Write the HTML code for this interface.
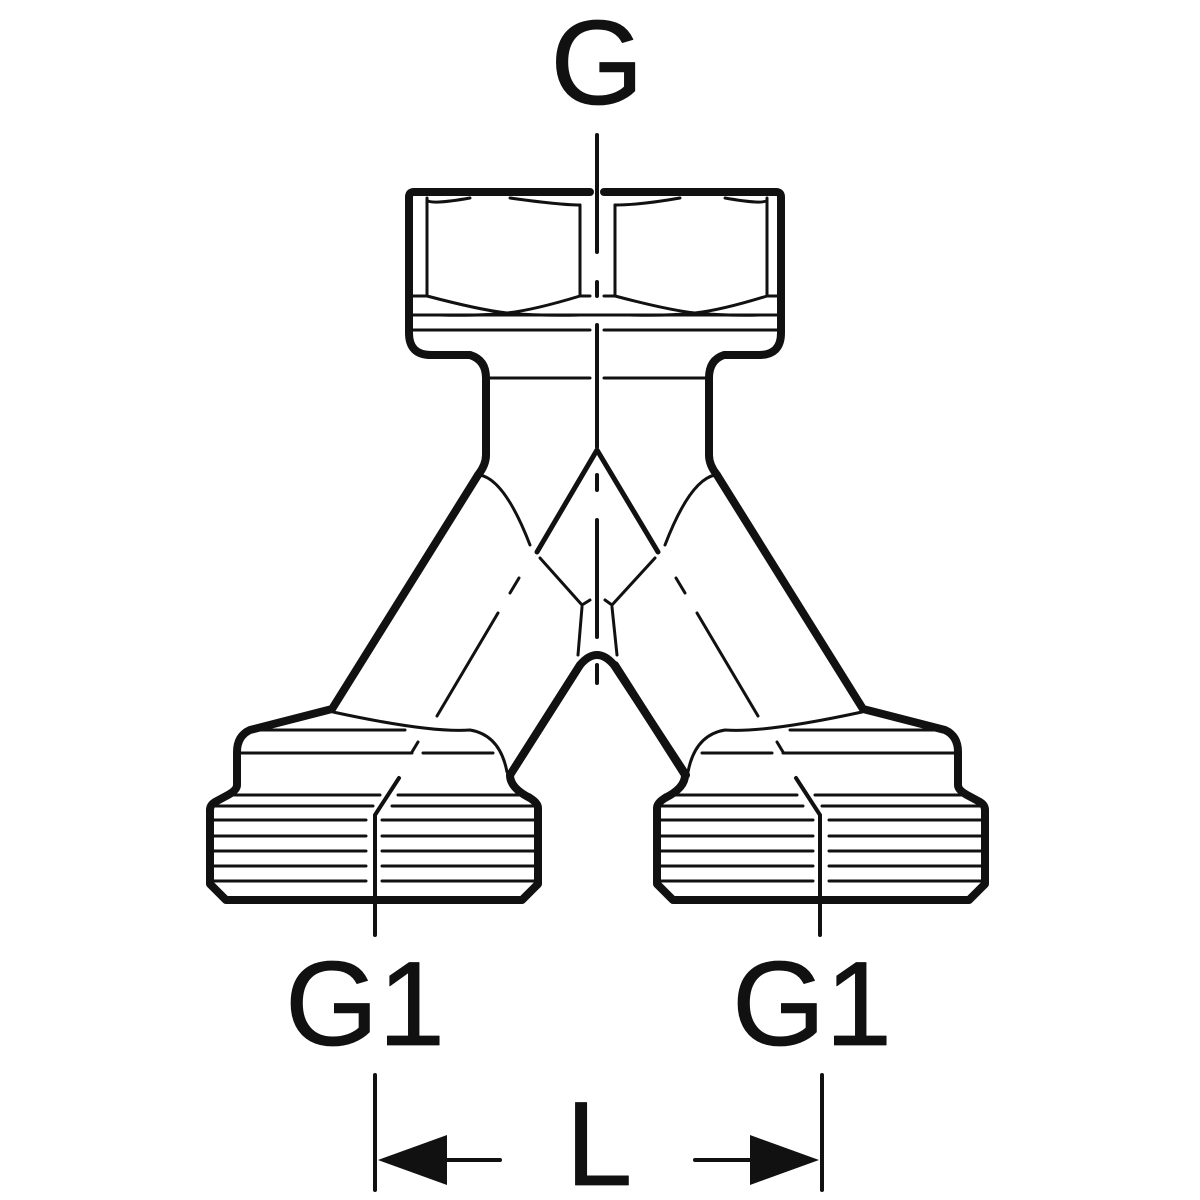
<!DOCTYPE html>
<html><head><style>html,body{margin:0;padding:0;background:#fff}svg{display:block}</style></head>
<body>
<svg width="1200" height="1200" viewBox="0 0 1200 1200" xmlns="http://www.w3.org/2000/svg" fill="none" stroke="#111" stroke-linecap="round" stroke-linejoin="round">
<!-- top nut -->
<path d="M590,192 H414 Q409,192 409,197 V333 Q409,355 431,355 H470 Q486,360 486,378 V455 Q486,465 478,475" stroke-width="8"/>
<path d="M604,192 H776 Q781,192 781,197 V333 Q781,355 759,355 H724 Q709,360 709,378 V455 Q709,465 717,475" stroke-width="8"/>
<g stroke-width="3">
<path d="M427,198 V296 M580,205 V296 M615,205 V296 M767,198 V296"/>
<path d="M412,296 H427 M767,296 H778 M580,296 H590 M604,296 H615"/>
<path d="M412,315 H778 M412,330 H590 M604,330 H778"/>
<path d="M427,200 Q430,205 470,198 M510,198 Q560,205 580,205 M615,205 Q640,205 680,198 M725,198 Q765,205 767,200"/>
<path d="M427,296 Q480,310 507,313 Q540,316 580,315 M580,296 Q534,310 507,313 Q480,316 440,315"/>
<path d="M615,296 Q668,310 695,313 Q728,316 760,315 M767,296 Q722,310 695,313 Q668,316 630,315"/>
<path d="M486,378 H590 M604,378 H709"/>
</g>
<!-- centerline -->
<g stroke-width="4">
<path d="M597,135 V252 M597,282 V296 M597,325 V447 M597,475 V490 M597,520 V637 M597,665 V683"/>
</g>
<!-- inner V -->
<path d="M597,450 L537,552 M597,450 L658,552" stroke-width="5"/>
<g stroke-width="3">
<path d="M480,475 Q505,480 530,545 M715,475 Q690,480 665,545"/>
<path d="M540,558 L582,605 L590,600 M655,558 L612,605 L605,600"/>
<path d="M582,607 L578,655 M612,607 L617,655"/>
</g>
<!-- arch / inner bottom legs -->
<path d="M510,775 L580,665 Q597,645 614,665 L686,775" stroke-width="8"/>
<!-- left leg + fitting -->
<g id="half">
<path d="M478,475 L332,709 L250,730 Q237,736 237,752 V785 Q237,790 228,795 L215,802 Q210,805 210,810 V884 L226,900 H522 L538,884 V808 Q538,803 530,798 Q510,788 510,775 L580,665" stroke-width="8"/>
<g stroke-width="3">
<path d="M333,712 Q430,733 470,730 Q500,735 507,772"/>
<path d="M245,730 H405"/>
<path d="M240,753 H412 M423,753 H493"/>
<path d="M228,795 H380 M398,795 H530"/>
<path d="M214,806 H373 M392,806 H536"/>
<path d="M214,820 H366 M382,820 H536 M214,836 H366 M382,836 H536 M214,851 H366 M382,851 H536 M214,866 H366 M382,866 H536 M214,881 H366 M382,881 H536"/>
<path d="M519,578 L510,593 M498,613 L437,716"/>
<path d="M418,742 L412,752"/>
<path d="M399,778 L375,815 V935" stroke-width="4"/>
</g>
</g>
<use href="#half" transform="translate(1195,0) scale(-1,1)"/>
<!-- dimension -->
<g stroke-width="4">
<path d="M375,1075 V1190 M822,1075 V1190"/>
<path d="M445,1160 H500 M695,1160 H752"/>
</g>
<path d="M378,1160 L447,1135 V1185 Z" fill="#111" stroke="none"/>
<path d="M819,1160 L750,1135 V1185 Z" fill="#111" stroke="none"/>
<g fill="#111" stroke="#111" stroke-width="0.8" font-family="Liberation Sans, sans-serif" font-size="120">
<text x="597" y="104" text-anchor="middle">G</text>
<text x="365" y="1045" text-anchor="middle">G1</text>
<text x="812" y="1045" text-anchor="middle">G1</text>
<text x="599" y="1185" text-anchor="middle">L</text>
</g>
</svg>
</body></html>
